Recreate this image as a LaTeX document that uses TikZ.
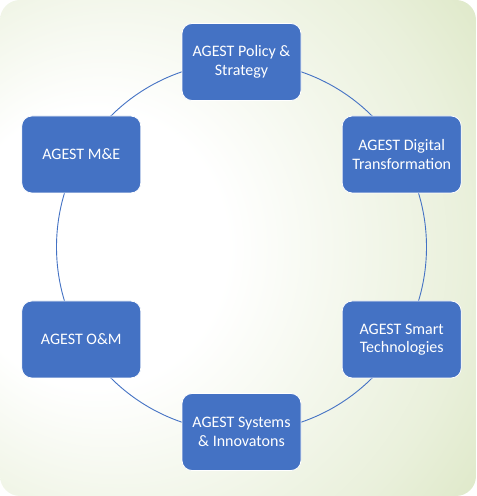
\documentclass[tikz,border=0pt]{standalone}
\usepackage{fontspec}
\setmainfont{Carlito}
\usepackage{tikz}
\usetikzlibrary{calc}

\definecolor{agestblue}{RGB}{68,114,196}
\definecolor{bggreen}{RGB}{216,228,190}

% soft background, white left of centre, green towards the right
\pgfdeclareradialshading{agestbg}{\pgfpoint{-19bp}{0bp}}{%
  color(0bp)=(white); color(14bp)=(white); color(34bp)=(bggreen!55!white); color(46bp)=(bggreen); color(70bp)=(bggreen)}

\tikzset{
  unit/.style={draw=white, line width=0.8pt, fill=agestblue, text=white,
    rounded corners=10pt, minimum width=119pt, minimum height=77pt,
    inner sep=0pt, align=center, font=\fontsize{16}{18.5}\selectfont},
  ring/.style={draw=agestblue, line width=0.9pt}
}

\begin{document}
\begin{tikzpicture}[x=1pt, y=1pt]

  % parameters
  \def\W{477}   % picture width
  \def\H{496}   % picture height
  \def\R{185}   % radius of the ring

  \useasboundingbox (0,0) rectangle (\W,\H);

  % background panel
  \path[rounded corners=20pt, shading=agestbg] (0,0) rectangle (\W-1,\H);

  % ring behind the units
  \coordinate (c) at (241.5,249);
  \draw[ring] (c) circle (\R);

  % the six units round the ring
  \foreach \ang/\name/\txt in {90/policy/{AGEST Policy \&\\Strategy},
                               30/digital/{AGEST Digital\\Transformation},
                               -30/smart/{AGEST Smart\\Technologies},
                               -90/systems/{AGEST Systems\\\& Innovatons},
                               -150/om/{AGEST O\&M},
                               150/me/{AGEST M\&E}} {
    \node[unit] (\name) at ($(c)+(\ang:\R)$) {\txt};
  }

\end{tikzpicture}
\end{document}
